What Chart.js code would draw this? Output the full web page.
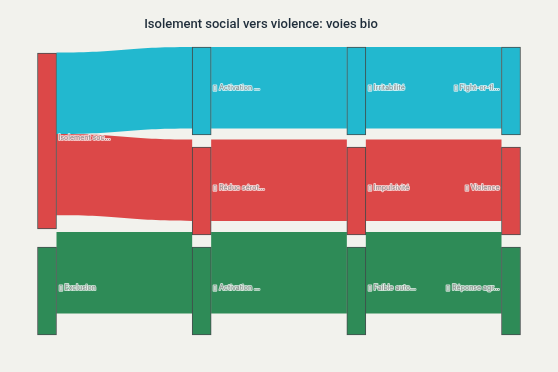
<!DOCTYPE html>
<html>
<head>
<meta charset="utf-8">
<script src="https://cdn.jsdelivr.net/npm/chart.js@4.4.1/dist/chart.umd.min.js"></script>
<style>
  html, body { margin: 0; padding: 0; background: #f2f2ed; }
  #wrap { width: 558px; height: 372px; }
</style>
</head>
<body>
<div id="wrap"><canvas id="c" width="558" height="372"></canvas></div>
<script>
// ---- data ----
const TITLE = "Isolement social vers violence: voies bio";
const nodeLabels = ["Isolement soc...", "▯ Exclusion",
  "▯ Activation ...", "▯ Réduc sérot...", "▯ Activation ...",
  "▯ Irritabilité", "▯ Impulsivité", "▯ Faible auto...",
  "▯ Fight-or-fl...", "▯ Violence", "▯ Réponse agr..."];
const nodeColumns = [0, 0, 1, 1, 1, 2, 2, 2, 3, 3, 3];
const nodeColors = ["#dc4848", "#2e8b57",
  "#22b8cf", "#dc4848", "#2e8b57",
  "#22b8cf", "#dc4848", "#2e8b57",
  "#22b8cf", "#dc4848", "#2e8b57"];
const linkSources = [0, 0, 1, 2, 3, 4, 5, 6, 7];
const linkTargets = [2, 3, 4, 5, 6, 7, 8, 9, 10];
const linkValues  = [10, 10, 10, 10, 10, 10, 10, 10, 10];

// ---- layout (sankey) ----
const NODE_GAP = 1.36;
const LINK_SCALE = 0.925;
const nN = nodeLabels.length;
const nodeVal = new Array(nN).fill(0);
(function () {
  const inS = new Array(nN).fill(0), outS = new Array(nN).fill(0);
  linkValues.forEach((v, i) => { outS[linkSources[i]] += v; inS[linkTargets[i]] += v; });
  for (let i = 0; i < nN; i++) nodeVal[i] = Math.max(inS[i], outS[i]);
})();
const cols = [...new Set(nodeColumns)].sort((a, b) => a - b);
let yMax = 0;
cols.forEach(c => {
  const ids = nodeColumns.map((cc, i) => cc === c ? i : -1).filter(i => i >= 0);
  const tot = ids.reduce((s, i) => s + nodeVal[i], 0) + (ids.length - 1) * NODE_GAP;
  yMax = Math.max(yMax, tot);
});
const nodeY0 = new Array(nN).fill(0);
cols.forEach(c => {
  const ids = nodeColumns.map((cc, i) => cc === c ? i : -1).filter(i => i >= 0);
  const sum = ids.reduce((s, i) => s + nodeVal[i], 0);
  const gap = ids.length > 1 ? (yMax - sum) / (ids.length - 1) : 0;
  let y = 0;
  ids.forEach(i => { nodeY0[i] = y; y += nodeVal[i] + gap; });
});
// relax source-only column toward targets
(function () {
  const ids = nodeColumns.map((cc, i) => cc === cols[0] ? i : -1).filter(i => i >= 0);
  ids.forEach(i => {
    let ws = 0, w = 0;
    linkSources.forEach((s, k) => {
      if (s === i) { const t = linkTargets[k]; ws += (nodeY0[t] + nodeVal[t] / 2) * linkValues[k]; w += linkValues[k]; }
    });
    if (w) nodeY0[i] = ws / w - nodeVal[i] / 2;
  });
  let y = 0;
  ids.forEach(i => { if (nodeY0[i] < y) nodeY0[i] = y; y = nodeY0[i] + nodeVal[i] + NODE_GAP; });
  let yb = yMax;
  for (let k = ids.length - 1; k >= 0; k--) {
    const i = ids[k];
    if (nodeY0[i] + nodeVal[i] > yb) nodeY0[i] = yb - nodeVal[i];
    yb = nodeY0[i] - NODE_GAP;
  }
})();
// link offsets
const linkSY = [], linkTY = [];
(function () {
  const so = new Array(nN).fill(0), to = new Array(nN).fill(0);
  const order = linkValues.map((v, i) => i).sort((a, b) => nodeY0[linkTargets[a]] - nodeY0[linkTargets[b]]);
  order.forEach(k => {
    const s = linkSources[k], t = linkTargets[k];
    linkSY[k] = nodeY0[s] + so[s]; so[s] += linkValues[k];
    linkTY[k] = nodeY0[t] + to[t]; to[t] += linkValues[k];
  });
})();

const NODE_W = 19;

const bgPlugin = {
  id: 'bg',
  beforeDraw(chart) {
    const ctx = chart.ctx;
    ctx.save();
    ctx.fillStyle = '#f2f2ed';
    ctx.fillRect(0, 0, chart.width, chart.height);
    ctx.fillStyle = '#1f2d3a';
    ctx.font = '500 13px Roboto, "Liberation Sans", sans-serif';
    ctx.textAlign = 'center';
    ctx.textBaseline = 'alphabetic';
    ctx.fillText(TITLE, 261, 28);
    ctx.restore();
  }
};

const linkPlugin = {
  id: 'links',
  beforeDatasetsDraw(chart) {
    const ctx = chart.ctx, xs = chart.scales.x, ys = chart.scales.yLink;
    ctx.save();
    linkValues.forEach((v, k) => {
      const s = linkSources[k], t = linkTargets[k];
      const x0 = xs.getPixelForValue(nodeColumns[s]) + NODE_W / 2;
      const x1 = xs.getPixelForValue(nodeColumns[t]) - NODE_W / 2;
      const xm = (x0 + x1) / 2;
      const a0 = ys.getPixelForValue(linkSY[k]), a1 = ys.getPixelForValue(linkSY[k] + v);
      const b0 = ys.getPixelForValue(linkTY[k]), b1 = ys.getPixelForValue(linkTY[k] + v);
      ctx.beginPath();
      ctx.moveTo(x0, a0);
      ctx.bezierCurveTo(xm, a0, xm, b0, x1, b0);
      ctx.lineTo(x1, b1);
      ctx.bezierCurveTo(xm, b1, xm, a1, x0, a1);
      ctx.closePath();
      ctx.fillStyle = nodeColors[t];
      ctx.fill();
    });
    ctx.restore();
  }
};

const labelPlugin = {
  id: 'labels',
  afterDatasetsDraw(chart) {
    const ctx = chart.ctx, xs = chart.scales.x, ys = chart.scales.y;
    const lastCol = cols[cols.length - 1];
    ctx.save();
    ctx.font = '7px Inter, "Liberation Sans", sans-serif';
    ctx.textBaseline = 'middle';
    ctx.lineJoin = 'round';
    for (let i = 0; i < nN; i++) {
      const xc = xs.getPixelForValue(nodeColumns[i]);
      const yc = ys.getPixelForValue(nodeY0[i] + nodeVal[i] / 2) - 3.5;
      let x;
      if (nodeColumns[i] === lastCol) { ctx.textAlign = 'right'; x = xc - NODE_W / 2 - 2; }
      else { ctx.textAlign = 'left'; x = xc + NODE_W / 2 + 2; }
      ctx.strokeStyle = 'rgba(255,255,255,0.7)';
      ctx.lineWidth = 2;
      ctx.strokeText(nodeLabels[i], x, yc);
      ctx.fillStyle = '#8a8a8a';
      ctx.fillText(nodeLabels[i], x, yc);
    }
    ctx.restore();
  }
};

new Chart(document.getElementById('c'), {
  type: 'bar',
  data: {
    datasets: [{
      data: nodeLabels.map((n, i) => ({ x: nodeColumns[i], y: [nodeY0[i], nodeY0[i] + nodeVal[i]] })),
      backgroundColor: nodeColors,
      borderColor: 'rgba(40,50,50,0.85)',
      borderWidth: 1,
      borderSkipped: false,
      barThickness: NODE_W,
      grouped: false,
      clip: false
    }]
  },
  options: {
    responsive: false,
    animation: false,
    events: [],
    layout: { padding: { left: 47, right: 47, top: 47, bottom: 37 } },
    plugins: { legend: { display: false }, title: { display: false }, tooltip: { enabled: false } },
    scales: {
      x: { type: 'linear', min: 0, max: 3, offset: false, display: false },
      y: { type: 'linear', min: 0, max: yMax, reverse: true, display: false },
      yLink: { type: 'linear', min: 0, max: yMax / LINK_SCALE, reverse: true, display: false }
    }
  },
  plugins: [bgPlugin, linkPlugin, labelPlugin]
});
</script>
</body>
</html>
